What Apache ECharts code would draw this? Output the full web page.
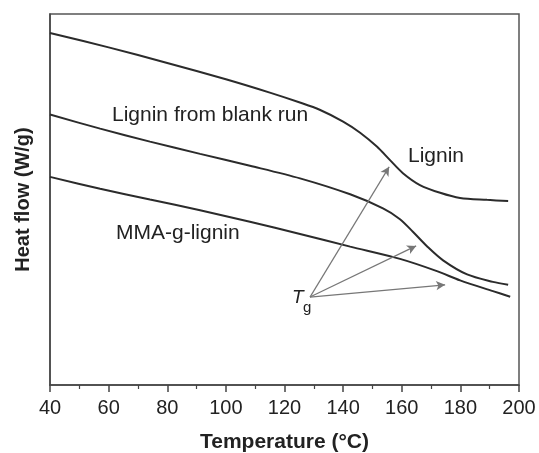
<!DOCTYPE html>
<html>
<head>
<meta charset="utf-8">
<script src="https://cdn.jsdelivr.net/npm/echarts@6/dist/echarts.min.js"></script>
<style>
  html, body { margin: 0; padding: 0; background: #fff; }
  #chart { width: 539px; height: 453px; }
</style>
</head>
<body>
<div id="chart"></div>
<script>
// DSC heat flow curves, arbitrary y units (0..10)
const ligninX = [40, 60, 80, 100, 115, 125, 132, 140, 145.8, 151.6, 156, 160.4, 166.2, 173.1, 179.9, 189.1, 196.3];
const ligninY = [9.49, 9.10, 8.68, 8.24, 7.88, 7.62, 7.42, 7.10, 6.80, 6.42, 6.06, 5.71, 5.39, 5.18, 5.04, 4.99, 4.96];

const blankX = [40, 57.1, 74.1, 91.2, 108.2, 125.3, 142.4, 153.6, 159.4, 163.8, 168.6, 174.1, 182.3, 191.1, 196.3];
const blankY = [7.29, 6.91, 6.56, 6.23, 5.91, 5.57, 5.14, 4.76, 4.47, 4.13, 3.74, 3.36, 2.98, 2.78, 2.70];

const mmaX = [40, 57.1, 74.1, 91.2, 108.2, 125.3, 142.4, 159.4, 172, 179.9, 191.1, 197];
const mmaY = [5.61, 5.29, 5.00, 4.71, 4.40, 4.07, 3.73, 3.40, 3.07, 2.82, 2.53, 2.38];

// Tg arrows: common start, three heads
const tgStart = [128.7, 2.37];
const tgHeads = [[155.7, 5.88], [164.9, 3.75], [174.8, 2.70]];

const xTicks = [40, 60, 80, 100, 120, 140, 160, 180, 200];

const pair = (xs, ys) => xs.map((x, i) => [x, ys[i]]);

const font = "'Liberation Sans', Arial, sans-serif";
const chart = echarts.init(document.getElementById("chart"));

const curve = (name, data) => ({
    name: name,
    type: "line",
    data: data,
    smooth: 0.3,
    showSymbol: false,
    lineStyle: { color: "#2b2b2b", width: 2 },
    silent: true,
});

const option = {
    animation: false,
    backgroundColor: "#fff",
    grid: {
        left: 50,
        right: 20,
        top: 14,
        bottom: 68,
        outerBoundsMode: "none",
        show: true,
        borderColor: "#555",
        borderWidth: 1.5,
    },
    xAxis: {
        type: "value",
        min: xTicks[0],
        max: xTicks[xTicks.length - 1],
        interval: 20,
        name: "Temperature (°C)",
        nameLocation: "middle",
        nameGap: 47,
        nameTextStyle: { fontFamily: font, fontSize: 21, fontWeight: "bold", color: "#222" },
        axisLine: { lineStyle: { color: "#444", width: 1.5 } },
        axisTick: { length: 7, lineStyle: { color: "#444", width: 1.5 } },
        minorTick: { show: true, splitNumber: 2, length: 4, lineStyle: { color: "#444", width: 1.2 } },
        axisLabel: { fontFamily: font, fontSize: 20, color: "#222", margin: 13 },
        splitLine: { show: false },
    },
    yAxis: {
        type: "value",
        min: 0,
        max: 10,
        name: "Heat flow (W/g)",
        nameLocation: "middle",
        nameRotate: 90,
        nameGap: 17,
        nameTextStyle: { fontFamily: font, fontSize: 20, fontWeight: "bold", color: "#222" },
        axisLine: { show: true, lineStyle: { color: "#444", width: 1.5 } },
        axisTick: { show: false },
        axisLabel: { show: false },
        splitLine: { show: false },
    },
    series: [
        curve("Lignin", pair(ligninX, ligninY)),
        curve("Lignin from blank run", pair(blankX, blankY)),
        curve("MMA-g-lignin", pair(mmaX, mmaY)),
        {
            name: "Tg",
            type: "line",
            data: [],
            silent: true,
            markLine: {
                silent: true,
                symbol: ["none", "arrow"],
                symbolSize: [7, 9],
                label: { show: false },
                lineStyle: { color: "#777", width: 1.2, type: "solid" },
                data: tgHeads.map((h) => [{ coord: tgStart }, { coord: h }]),
            },
        },
    ],
    graphic: [
        { type: "text", left: 112, top: 105, style: { text: "Lignin from blank run", font: "21px " + font, fill: "#222" } },
        { type: "text", left: 408, top: 146, style: { text: "Lignin", font: "21px " + font, fill: "#222" } },
        { type: "text", left: 116, top: 223, style: { text: "MMA-g-lignin", font: "21px " + font, fill: "#222" } },
        { type: "text", left: 292, top: 288, style: { text: "T", font: "italic 19px " + font, fill: "#222" } },
        { type: "text", left: 303, top: 300, style: { text: "g", font: "15px " + font, fill: "#222" } },
    ],
};

chart.setOption(option);
</script>
</body>
</html>
